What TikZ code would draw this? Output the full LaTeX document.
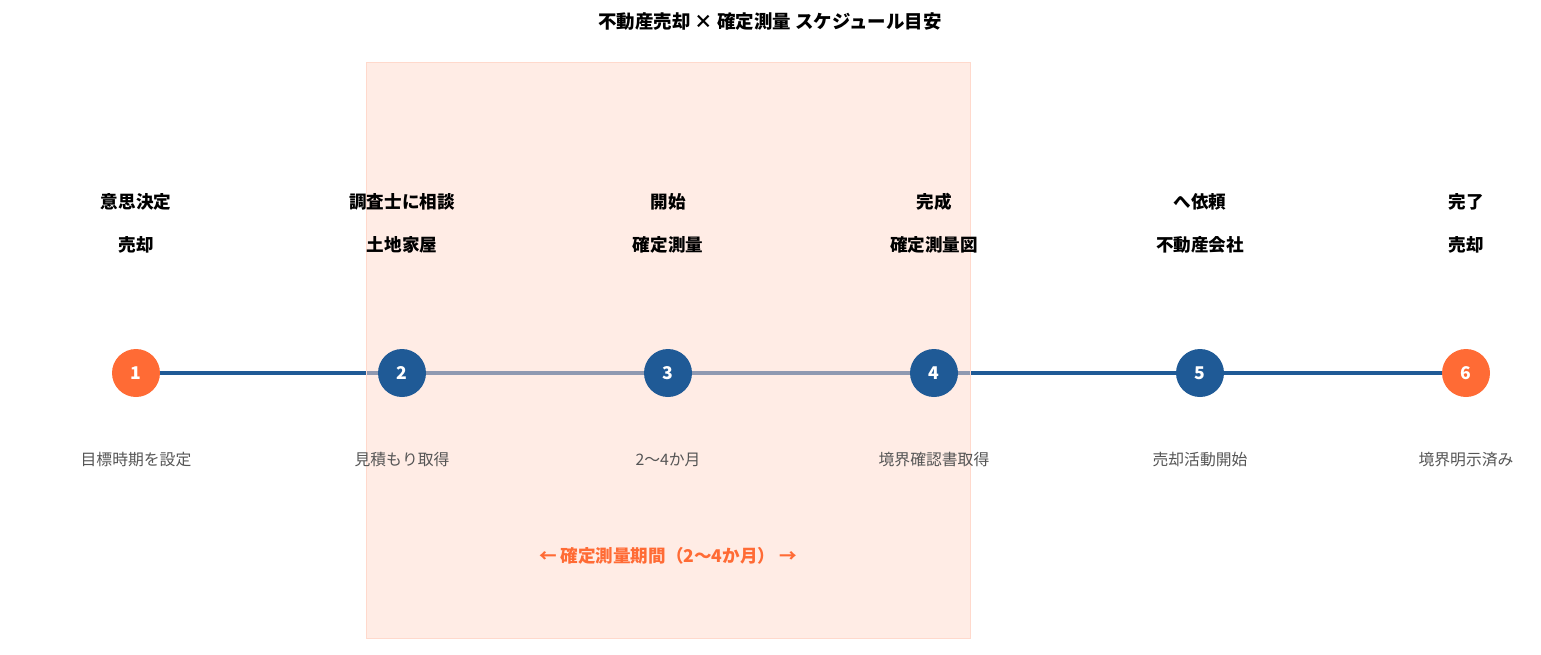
\documentclass[tikz,border=0pt]{standalone}
\usepackage{fontspec}
\setmainfont{Noto Sans CJK JP}
\usepackage{xcolor}
\definecolor{stepblue}{HTML}{1F5A96}
\definecolor{steporange}{HTML}{FF6B35}
\definecolor{periodfill}{HTML}{FFD9CC}
\definecolor{labelgray}{HTML}{555555}
\tikzset{
  stepdot/.style={circle,minimum size=0.96cm,inner sep=0pt,text=white,font=\bfseries\fontsize{10}{12}\selectfont},
  toplabel/.style={font=\bfseries\fontsize{10}{12}\selectfont},
  sublabel/.style={text=labelgray,font=\fontsize{9}{11}\selectfont}
}
\begin{document}
\begin{tikzpicture}[x=0.02cm,y=-0.02cm]
\useasboundingbox (0,0) rectangle (1541,654);

\node[font=\bfseries\fontsize{10.5}{12}\selectfont] (Title) at (770,22) {不動産売却 × 確定測量 スケジュール目安};

% timeline
\coordinate (LineStart) at (136,373);
\coordinate (LineEnd) at (1466,373);
\draw[stepblue,line width=2.8pt] (LineStart) -- (LineEnd);

% period
\draw[draw=periodfill,fill=periodfill,fill opacity=0.5] (366,62) rectangle (970,638);

% steps
\node[stepdot,fill=steporange] (Step1) at (136,373) {1};
\node[stepdot,fill=stepblue] (Step2) at (402,373) {2};
\node[stepdot,fill=stepblue] (Step3) at (668,373) {3};
\node[stepdot,fill=stepblue] (Step4) at (934,373) {4};
\node[stepdot,fill=stepblue] (Step5) at (1200,373) {5};
\node[stepdot,fill=steporange] (Step6) at (1466,373) {6};

\node[toplabel] (TopA1) at (136,202) {意思決定};
\node[toplabel] (TopB1) at (136,245) {売却};
\node[toplabel] (TopA2) at (402,202) {調査士に相談};
\node[toplabel] (TopB2) at (402,245) {土地家屋};
\node[toplabel] (TopA3) at (668,202) {開始};
\node[toplabel] (TopB3) at (668,245) {確定測量};
\node[toplabel] (TopA4) at (934,202) {完成};
\node[toplabel] (TopB4) at (934,245) {確定測量図};
\node[toplabel] (TopA5) at (1200,202) {へ依頼};
\node[toplabel] (TopB5) at (1200,245) {不動産会社};
\node[toplabel] (TopA6) at (1466,202) {完了};
\node[toplabel] (TopB6) at (1466,245) {売却};

\node[sublabel] (Sub1) at (136,460) {目標時期を設定};
\node[sublabel] (Sub2) at (402,460) {見積もり取得};
\node[sublabel] (Sub3) at (668,460) {2〜4か月};
\node[sublabel] (Sub4) at (934,460) {境界確認書取得};
\node[sublabel] (Sub5) at (1200,460) {売却活動開始};
\node[sublabel] (Sub6) at (1466,460) {境界明示済み};

\node[text=steporange,font=\bfseries\fontsize{10}{12}\selectfont] (Period) at (668,556) {← 確定測量期間（2〜4か月） →};
\end{tikzpicture}
\end{document}
